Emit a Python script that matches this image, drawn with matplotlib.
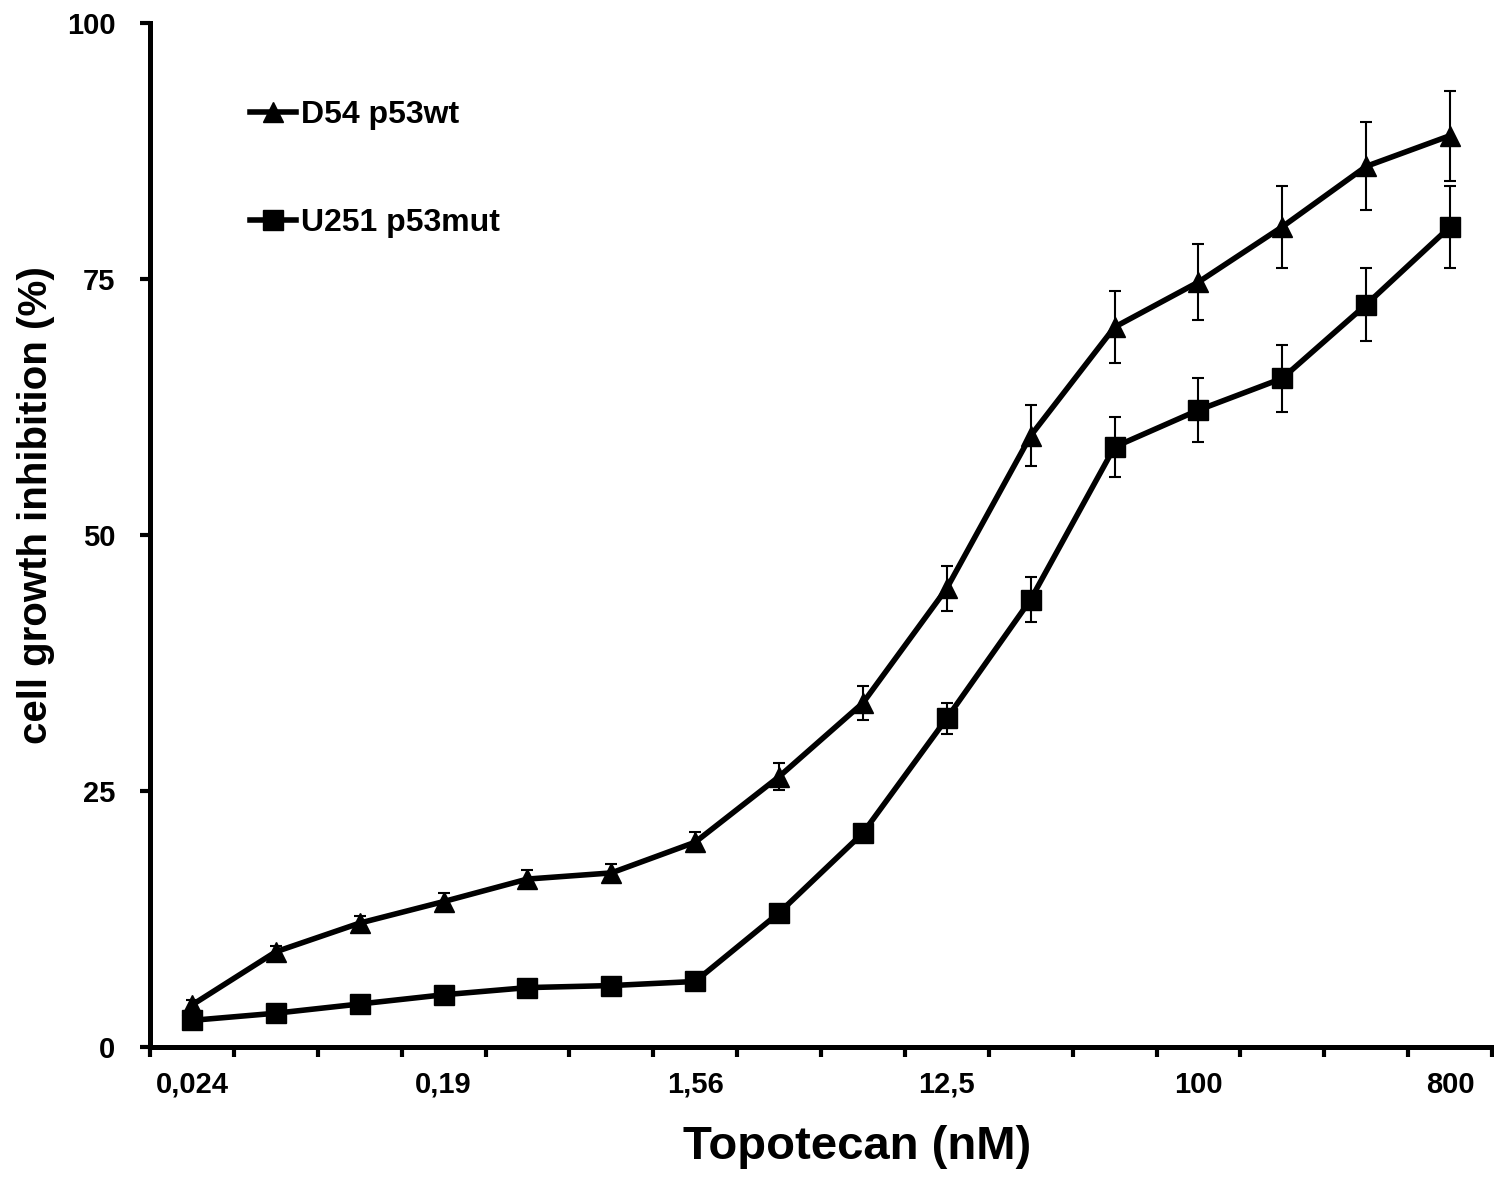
import matplotlib.pyplot as plt
import numpy as np

plt.rcParams['font.family'] = ['Liberation Sans', 'DejaVu Sans']
plt.rcParams['font.weight'] = 'bold'

# Topotecan doses (nM), twofold dilution series
doses = ['0,024', '0,049', '0,098', '0,19', '0,39', '0,78', '1,56', '3,125',
         '6,25', '12,5', '25', '50', '100', '200', '400', '800']

# cell growth inhibition (%) with error bars
d54 = [4.1, 9.3, 12.1, 14.2, 16.4, 17.0, 20.0, 26.4,
       33.6, 44.8, 59.7, 70.3, 74.7, 80.1, 86.0, 89.0]
d54_err = [0.5, 0.6, 0.7, 0.8, 0.9, 0.9, 1.0, 1.3,
           1.7, 2.2, 3.0, 3.5, 3.7, 4.0, 4.3, 4.4]

u251 = [2.6, 3.3, 4.2, 5.1, 5.8, 6.0, 6.4, 13.1,
        20.9, 32.1, 43.7, 58.6, 62.2, 65.3, 72.5, 80.1]
u251_err = [0.3, 0.3, 0.3, 0.4, 0.4, 0.4, 0.4, 0.5,
            0.6, 1.5, 2.2, 2.9, 3.1, 3.3, 3.6, 4.0]

x = np.arange(len(doses))

fig = plt.figure(figsize=(14.94, 11.79), dpi=100)
ax = fig.add_axes([150 / 1494, 132 / 1179, 1342 / 1494, 1024 / 1179])

# error bars behind the markers
ax.errorbar(x, d54, yerr=d54_err, fmt='none', ecolor='black', elinewidth=1.5,
            capsize=4.3, capthick=1.5, zorder=2)
ax.errorbar(x, u251, yerr=u251_err, fmt='none', ecolor='black', elinewidth=1.5,
            capsize=4.3, capthick=1.5, zorder=2)

ax.plot(x, d54, color='black', lw=4, marker='^', markersize=15, zorder=3,
        label='D54 p53wt')
ax.plot(x, u251, color='black', lw=4, marker='s', markersize=14, zorder=3,
        label='U251 p53mut')

ax.set_xlim(-0.5, len(doses) - 0.5)
ax.set_ylim(0, 100)

for side in ['top', 'right']:
    ax.spines[side].set_visible(False)
for side in ['left', 'bottom']:
    ax.spines[side].set_linewidth(3.6)

# category labels every third dose, ticks between categories
ax.set_xticks(x[::3])
ax.set_xticklabels(doses[::3], fontsize=21, fontweight='bold')
ax.set_xticks(np.arange(-0.5, len(doses)), minor=True)
ax.tick_params(axis='x', which='major', length=0, pad=17)
ax.tick_params(axis='x', which='minor', direction='out', length=7, width=3)

ax.set_yticks([0, 25, 50, 75, 100])
ax.tick_params(axis='y', direction='out', length=7, width=3, labelsize=21, pad=18)
for lab in ax.get_yticklabels():
    lab.set_fontweight('bold')

ax.set_xlabel('Topotecan (nM)', fontsize=34, fontweight='bold')
ax.xaxis.set_label_coords(0.527, -0.076)
ax.set_ylabel('cell growth inhibition (%)', fontsize=29, fontweight='bold')
ax.yaxis.set_label_coords(-0.071, 0.529)

ax.legend(loc='upper left', bbox_to_anchor=(250 / 1494, 1 - 100 / 1179),
          bbox_transform=fig.transFigure, frameon=False,
          handlelength=1.45, handletextpad=0.15, labelspacing=2.45,
          borderpad=0, borderaxespad=0, prop={'weight': 'bold', 'size': 23})

fig.savefig('out.png', dpi=100)
